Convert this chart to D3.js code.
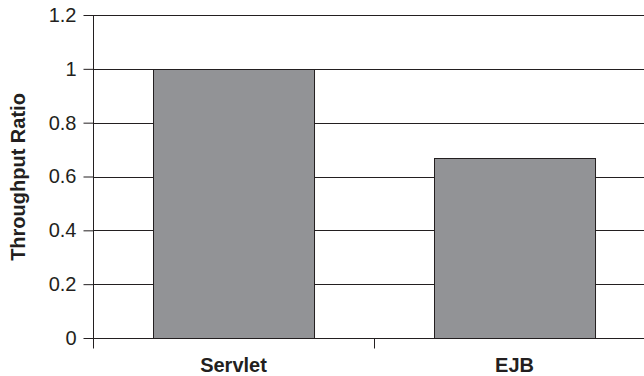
<!DOCTYPE html>
<html><head><meta charset="utf-8">
<script src="https://cdn.jsdelivr.net/npm/d3@7"></script>
<style>body{margin:0;background:#fff}svg{display:block}</style>
</head><body>
<svg id="c" width="644" height="376"></svg>
<script>
const categories = ["Servlet", "EJB"];
const values = [1.0, 0.67];
const yTicks = [0, 0.2, 0.4, 0.6, 0.8, 1, 1.2];

const svg = d3.select("#c");
const mLeft = 93, mTop = 15, mBottom = 338, mRight = 655;
const x = d3.scaleBand().domain(categories).range([mLeft, mRight]).paddingInner(0.427).paddingOuter(0.2135);
const y = d3.scaleLinear().domain([0, 1.2]).range([mBottom, mTop]);
const font = "Arial, 'Liberation Sans', sans-serif";

// gridlines
svg.append("g").selectAll("line").data(yTicks).join("line")
  .attr("x1", mLeft).attr("x2", 644)
  .attr("y1", d => Math.round(y(d)) + 0.5).attr("y2", d => Math.round(y(d)) + 0.5)
  .attr("stroke", "#231f20").attr("stroke-width", 1);

// y axis
const ya = svg.append("g").attr("transform", `translate(${mLeft + 0.5},0)`)
  .call(d3.axisLeft(y).tickValues(yTicks).tickSize(10).tickPadding(7).tickFormat(d3.format("~g")));
ya.attr("font-size", 20).attr("font-family", font);
ya.select(".domain").attr("d", `M0,${mTop}V${mBottom + 10}`).attr("stroke", "#231f20");
ya.selectAll(".tick line").attr("stroke", "#231f20");
ya.selectAll("text").attr("font-family", font).attr("font-size", 20).attr("fill", "#231f20");

// bars
svg.append("g").selectAll("rect").data(values).join("rect")
  .attr("x", (d, i) => Math.round(x(categories[i])) + 0.5)
  .attr("y", d => Math.round(y(d)) + 0.5)
  .attr("width", x.bandwidth())
  .attr("height", d => Math.round(mBottom - y(d)))
  .attr("fill", "#929396").attr("stroke", "#231f20").attr("stroke-width", 1);

// x axis
const xb = d3.scaleLinear().domain([0, 2]).range([mLeft, mRight]);
const xa = svg.append("g").attr("transform", `translate(0,${mBottom + 0.5})`);
xa.append("line").attr("x1", mLeft).attr("x2", 644).attr("stroke", "#231f20");
xa.selectAll("line.t").data([0, 1, 2]).join("line").attr("class", "t")
  .attr("x1", d => Math.round(xb(d)) + 0.5).attr("x2", d => Math.round(xb(d)) + 0.5)
  .attr("y1", 0).attr("y2", 10).attr("stroke", "#231f20");
svg.append("g").selectAll("text").data(categories).join("text")
  .attr("x", d => x(d) + x.bandwidth() / 2).attr("y", 372)
  .attr("text-anchor", "middle").attr("font-family", font).attr("font-weight", "bold")
  .attr("font-size", 20).attr("fill", "#231f20").text(d => d);

// y title
svg.append("text").attr("transform", "translate(25,177) rotate(-90)")
  .attr("text-anchor", "middle").attr("font-family", font).attr("font-weight", "bold")
  .attr("font-size", 20).attr("fill", "#231f20").text("Throughput Ratio");
</script>
</body></html>
